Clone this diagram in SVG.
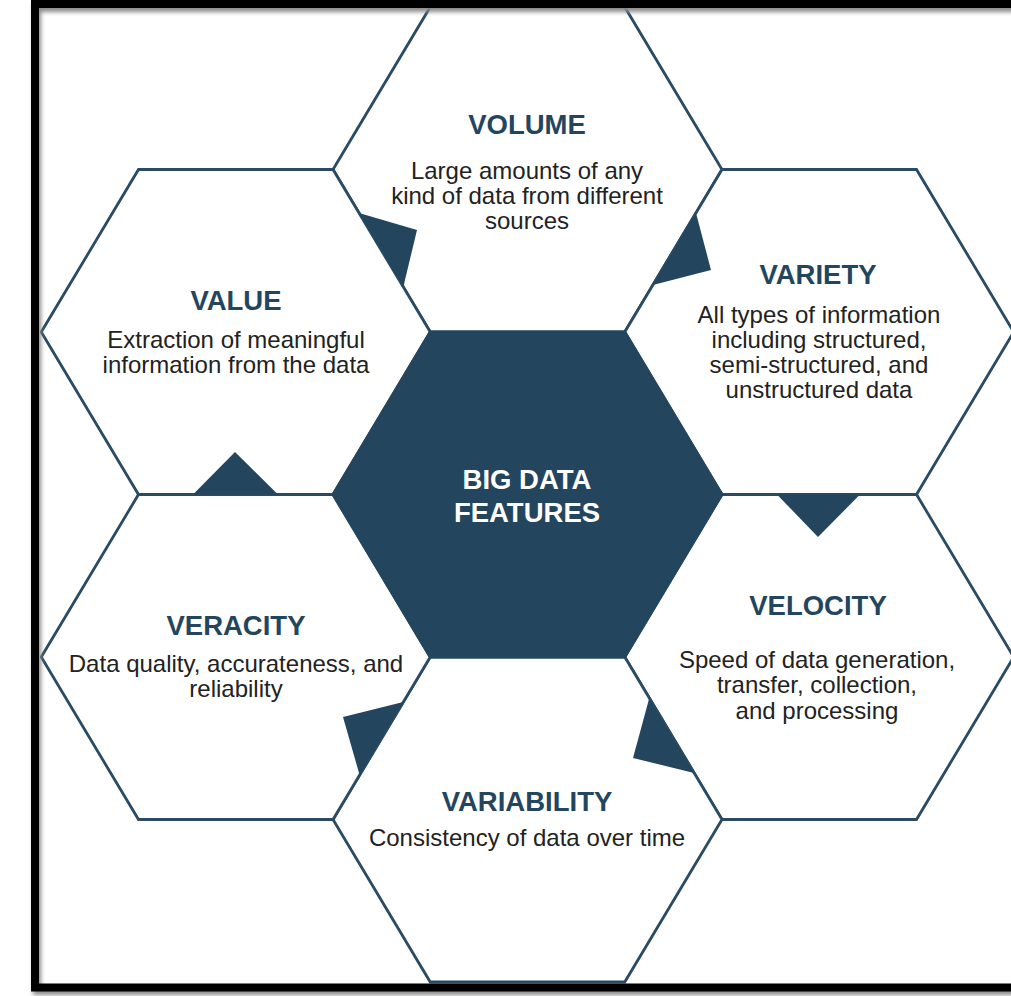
<svg xmlns="http://www.w3.org/2000/svg" xmlns:xlink="http://www.w3.org/1999/xlink" width="1011" height="996" viewBox="0 0 1011 996">
<style>
.hex{fill:#ffffff;stroke:#2a4b62;stroke-width:2.8;stroke-linejoin:miter}
.core{fill:#24455e;stroke:#24455e;stroke-width:2.8}
.tab{fill:#24455e;stroke:none}
.title{font-family:"Liberation Sans",Arial,sans-serif;font-weight:bold;font-size:27.5px;fill:#24455e;text-anchor:middle}
.ctitle{font-family:"Liberation Sans",Arial,sans-serif;font-weight:bold;font-size:27.5px;fill:#ffffff;text-anchor:middle}
.body{font-family:"Liberation Sans",Arial,sans-serif;font-size:24px;fill:#222222;text-anchor:middle}
</style>
<defs>
<polygon id="hexshape" points="-194.5,0 -97.25,-162.5 97.25,-162.5 194.5,0 97.25,162.5 -97.25,162.5"/>
<filter id="shadow" x="-5%" y="-5%" width="110%" height="110%">
<feGaussianBlur stdDeviation="2"/>
</filter>
</defs>
<rect x="0" y="0" width="1011" height="996" fill="#ffffff"/>
<g id="node-volume">
<use xlink:href="#hexshape" class="hex" transform="translate(527.5,169.5)"/>
<text class="title" x="527" y="134">VOLUME</text>
<text class="body" x="527" y="179">Large amounts of any</text>
<text class="body" x="527" y="204">kind of data from different</text>
<text class="body" x="527" y="229">sources</text>
</g>
<g id="node-variety">
<use xlink:href="#hexshape" class="hex" transform="translate(819.25,332)"/>
<text class="title" x="818" y="284">VARIETY</text>
<text class="body" x="819" y="323">All types of information</text>
<text class="body" x="819" y="348">including structured,</text>
<text class="body" x="819" y="373">semi-structured, and</text>
<text class="body" x="819" y="398">unstructured data</text>
</g>
<g id="node-velocity">
<use xlink:href="#hexshape" class="hex" transform="translate(819.25,657)"/>
<text class="title" x="818" y="615">VELOCITY</text>
<text class="body" x="817" y="668">Speed of data generation,</text>
<text class="body" x="817" y="693">transfer, collection,</text>
<text class="body" x="817" y="719">and processing</text>
</g>
<g id="node-variability">
<use xlink:href="#hexshape" class="hex" transform="translate(527.5,819.5)"/>
<text class="title" x="527" y="811">VARIABILITY</text>
<text class="body" x="527" y="846">Consistency of data over time</text>
</g>
<g id="node-veracity">
<use xlink:href="#hexshape" class="hex" transform="translate(235.75,657)"/>
<text class="title" x="236" y="635">VERACITY</text>
<text class="body" x="236" y="672">Data quality, accurateness, and</text>
<text class="body" x="236" y="697">reliability</text>
</g>
<g id="node-value">
<use xlink:href="#hexshape" class="hex" transform="translate(235.75,332)"/>
<text class="title" x="236" y="310">VALUE</text>
<text class="body" x="236" y="348">Extraction of meaningful</text>
<text class="body" x="236" y="373">information from the data</text>
</g>
<g id="node-center">
<use xlink:href="#hexshape" class="core" transform="translate(527.5,494.5)"/>
<text class="ctitle" x="527" y="489">BIG DATA</text>
<text class="ctitle" x="527" y="522">FEATURES</text>
</g>
<g id="connectors">
<polygon class="tab" points="359,213 417,230 403.3,287"/>
<polygon class="tab" points="696,213 711,270 652.9,285"/>
<polygon class="tab" points="777,494.5 860,494.5 818,537"/>
<polygon class="tab" points="649.3,698 694.2,773 633,758"/>
<polygon class="tab" points="403.3,702 359.6,775 343,717"/>
<polygon class="tab" points="193,494.5 278,494.5 235,452"/>
</g>
<g id="frame">
<rect x="37" y="8" width="1000" height="983" fill="none" stroke="#8a8a8a" stroke-width="8" filter="url(#shadow)"/>
<rect x="35" y="4" width="1000" height="983.5" fill="none" stroke="#000000" stroke-width="8"/>
</g>
</svg>
